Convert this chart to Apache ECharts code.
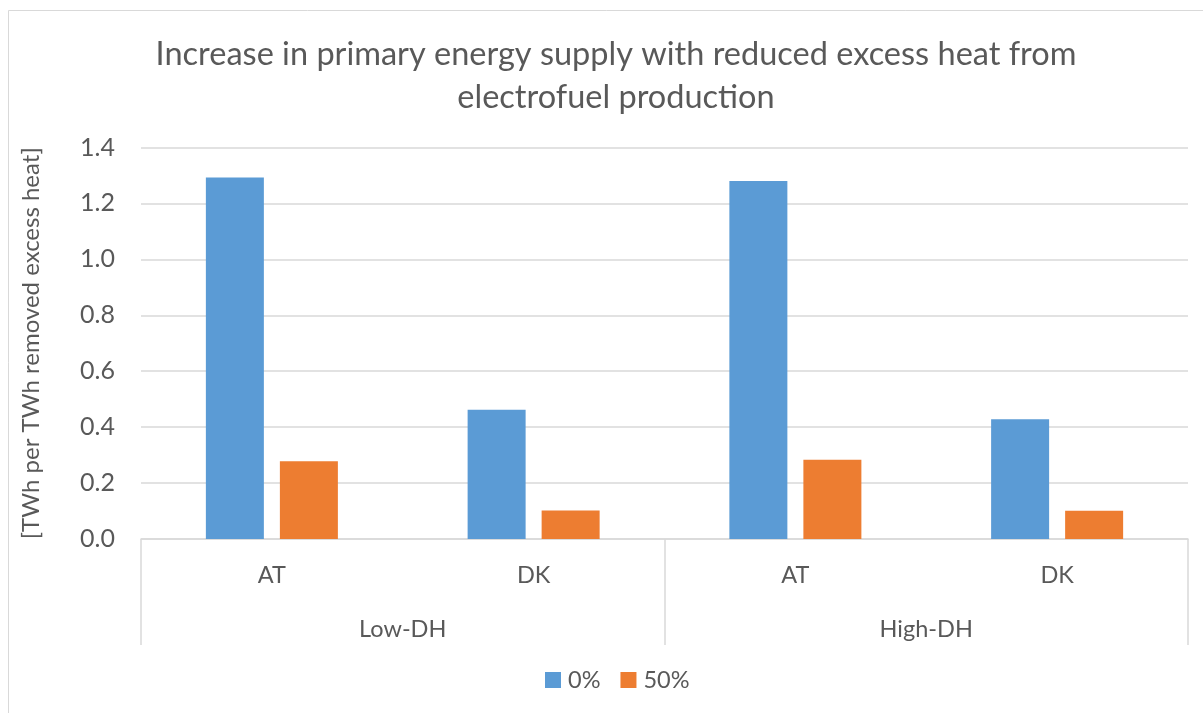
<!DOCTYPE html>
<html>
<head>
<meta charset="utf-8">
<script src="https://cdn.jsdelivr.net/npm/echarts@6/dist/echarts.min.js"></script>
<style>html,body{margin:0;padding:0;background:#fff}#c{width:1203px;height:713px}</style>
</head>
<body>
<div id="c"></div>
<script>
const categories = ['AT', 'DK', 'AT', 'DK'];
const groups = ['Low-DH', 'High-DH'];
const seriesNames = ['0%', '50%'];
const values0 = [1.293, 0.462, 1.280, 0.428];
const values50 = [0.278, 0.102, 0.283, 0.101];
const yTicks = [0, 1.4, 0.2];

const FONT = 'Lato, "Open Sans", sans-serif';
const TXT = '#595959';
const GRID = '#D9D9D9';

const chart = echarts.init(document.getElementById('c'));
chart.setOption({
  animation: false,
  backgroundColor: '#fff',
  textStyle: { fontFamily: FONT },
  graphic: [{
    type: 'rect', silent: true, z: -1,
    shape: { x: 8.5, y: 10.5, width: 1300, height: 800 },
    style: { fill: 'none', stroke: GRID, lineWidth: 1 }
  }],
  title: {
    text: 'Increase in primary energy supply with reduced excess heat from\nelectrofuel production',
    left: 611, textAlign: 'center', top: 28,
    textStyle: { fontFamily: FONT, fontWeight: 'normal', fontSize: 32.5, color: TXT, lineHeight: 43 }
  },
  legend: {
    data: seriesNames, bottom: 16, left: 540,
    icon: 'rect', itemWidth: 16, itemHeight: 16, itemGap: 20,
    textStyle: { fontFamily: FONT, fontSize: 23.5, color: TXT, padding: [0, 0, 0, 2] }
  },
  grid: { left: 141, right: 15, top: 147.5, bottom: 174, containLabel: false },
  xAxis: [{
    type: 'category', data: categories, position: 'bottom',
    axisLine: { show: true, lineStyle: { color: GRID, width: 1.5 } },
    axisTick: { show: false },
    axisLabel: { fontFamily: FONT, fontSize: 23.5, color: TXT, margin: 24 },
    splitLine: { show: false }
  }, {
    type: 'category', data: groups, position: 'bottom',
    axisLine: { show: false },
    axisTick: { show: true, length: 106, lineStyle: { color: GRID, width: 1.5 } },
    axisLabel: { fontFamily: FONT, fontSize: 23.5, color: TXT, margin: 78 },
    splitLine: { show: false }
  }],
  yAxis: {
    type: 'value', min: yTicks[0], max: yTicks[1], interval: yTicks[2],
    name: '[TWh per TWh removed excess heat]', nameLocation: 'middle', nameGap: 98,
    nameRotate: 90,
    nameTextStyle: { fontFamily: FONT, fontSize: 24, color: TXT },
    axisLine: { show: false }, axisTick: { show: false },
    axisLabel: { fontFamily: FONT, fontSize: 25, color: TXT, margin: 26, formatter: v => v.toFixed(1) },
    splitLine: { lineStyle: { color: GRID, width: 1.5 } }
  },
  series: [{
    name: seriesNames[0], type: 'bar', data: values0, barWidth: 58, barGap: '27.6%',
    itemStyle: { color: '#5B9BD5' }
  }, {
    name: seriesNames[1], type: 'bar', data: values50, barWidth: 58,
    itemStyle: { color: '#ED7D31' }
  }]
});
</script>
</body>
</html>
